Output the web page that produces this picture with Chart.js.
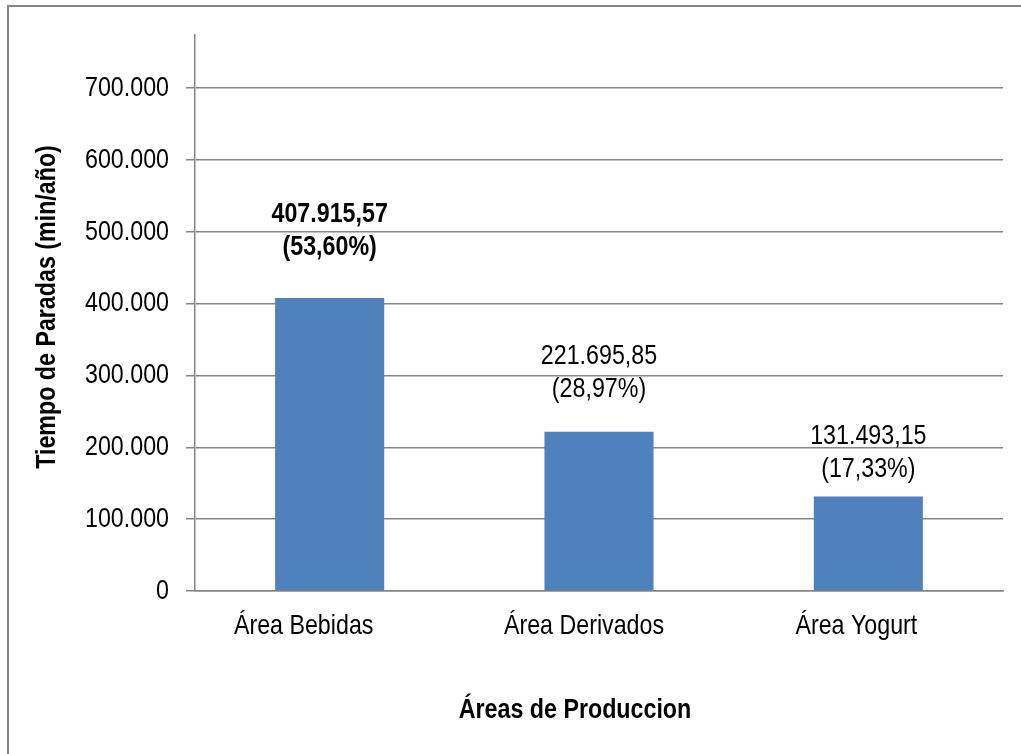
<!DOCTYPE html>
<html>
<head>
<meta charset="utf-8">
<script src="https://cdn.jsdelivr.net/npm/chart.js@4/dist/chart.umd.min.js"></script>
<style>
  html, body { margin: 0; padding: 0; background: #fff; overflow: hidden; }
  #frame { position: absolute; left: 7px; top: 5px; width: 1100px; height: 800px;
           border: 2px solid #878787; box-sizing: border-box; }
  #wrap { position: absolute; left: 0; top: 0; width: 1021px; height: 754px; }
</style>
</head>
<body>
<div id="frame"></div>
<div id="wrap"><canvas id="c" width="1021" height="754"></canvas></div>
<script>
// Stoppage time per production area
const categories = ['Área Bebidas', 'Área Derivados', 'Área Yogurt'];
const stopMinutes = [407915.57, 221695.85, 131493.15];
const valueLabels = ['407.915,57', '221.695,85', '131.493,15'];
const shareLabels = ['(53,60%)', '(28,97%)', '(17,33%)'];
const yTicks = [0, 100000, 200000, 300000, 400000, 500000, 600000, 700000];

const FONT = '"Liberation Sans Narrow", "Arial Narrow", "Liberation Sans", Arial, sans-serif';
const GRID = '#868686';
const NARROW = 0.83;   // horizontal squeeze giving a narrow-face look

// label placement above each bar (pixels from bar top to first line centre)
const labelLift = [84, 75, 60];
const labelBold = [true, false, false];
// horizontal nudge of each category name under its bar
const categoryShift = [-26, -15, -12];

function fmtThousands(v) {
  return String(Math.round(v)).replace(/\B(?=(\d{3})+(?!\d))/g, '.');
}

const canvas = document.getElementById('c');
const ctx2d = canvas.getContext('2d');
// condense every string drawn on this canvas
const baseFillText = ctx2d.fillText.bind(ctx2d);
ctx2d.fillText = function (text, x, y, maxWidth) {
  const w = ctx2d.measureText(text).width * NARROW;
  const mw = (maxWidth === undefined || maxWidth === null) ? w : Math.min(maxWidth, w);
  baseFillText(text, x, y, mw);
};

const barLabels = {
  id: 'barLabels',
  afterDatasetsDraw(chart) {
    const ctx = chart.ctx;
    const meta = chart.getDatasetMeta(0);
    ctx.save();
    ctx.fillStyle = '#000';
    ctx.textAlign = 'center';
    ctx.textBaseline = 'middle';
    meta.data.forEach((bar, i) => {
      ctx.font = (labelBold[i] ? 'bold ' : '') + '28px ' + FONT;
      const y1 = bar.y - labelLift[i];
      ctx.fillText(valueLabels[i], bar.x, y1);
      ctx.fillText(shareLabels[i], bar.x, y1 + 33);
    });
    ctx.restore();
  }
};

const axisText = {
  id: 'axisText',
  afterDraw(chart) {
    const ctx = chart.ctx;
    const xs = chart.scales.x;
    ctx.save();
    ctx.fillStyle = '#000';
    ctx.textAlign = 'center';
    ctx.textBaseline = 'middle';
    // category names
    ctx.font = '28px ' + FONT;
    categories.forEach((name, i) => {
      ctx.fillText(name, xs.getPixelForValue(i) + categoryShift[i], 626);
    });
    // axis titles
    ctx.font = 'bold 28px ' + FONT;
    ctx.fillText('Áreas de Produccion', 575, 710);
    ctx.translate(47, 307);
    ctx.rotate(-Math.PI / 2);
    ctx.fillText('Tiempo de Paradas (min/año)', 0, 0);
    ctx.restore();
  }
};

new Chart(canvas, {
  type: 'bar',
  data: {
    labels: categories,
    datasets: [{
      data: stopMinutes,
      backgroundColor: '#4F81BD',
      borderWidth: 0,
      categoryPercentage: 0.405,
      barPercentage: 1
    }]
  },
  options: {
    responsive: false,
    animation: false,
    events: [],
    layout: { padding: { left: 0, top: 35, right: 18, bottom: 0 } },
    plugins: { legend: { display: false }, tooltip: { enabled: false }, title: { display: false } },
    scales: {
      x: {
        grid: { display: false, drawTicks: false },
        border: { display: true, color: GRID, width: 1.5 },
        ticks: { display: false },
        afterFit(s) { s.height = 163; }
      },
      y: {
        min: 0,
        max: 774000,
        afterBuildTicks(s) { s.ticks = yTicks.map(v => ({ value: v })); },
        grid: { color: GRID, lineWidth: 1.5, tickLength: 9, drawTicks: true },
        border: { display: true, color: GRID, width: 1.5 },
        ticks: { color: '#000', font: { family: FONT, size: 28 }, padding: 17,
                 callback: v => fmtThousands(v) },
        afterFit(s) { s.width = 195; }
      }
    }
  },
  plugins: [barLabels, axisText]
});
</script>
</body>
</html>
